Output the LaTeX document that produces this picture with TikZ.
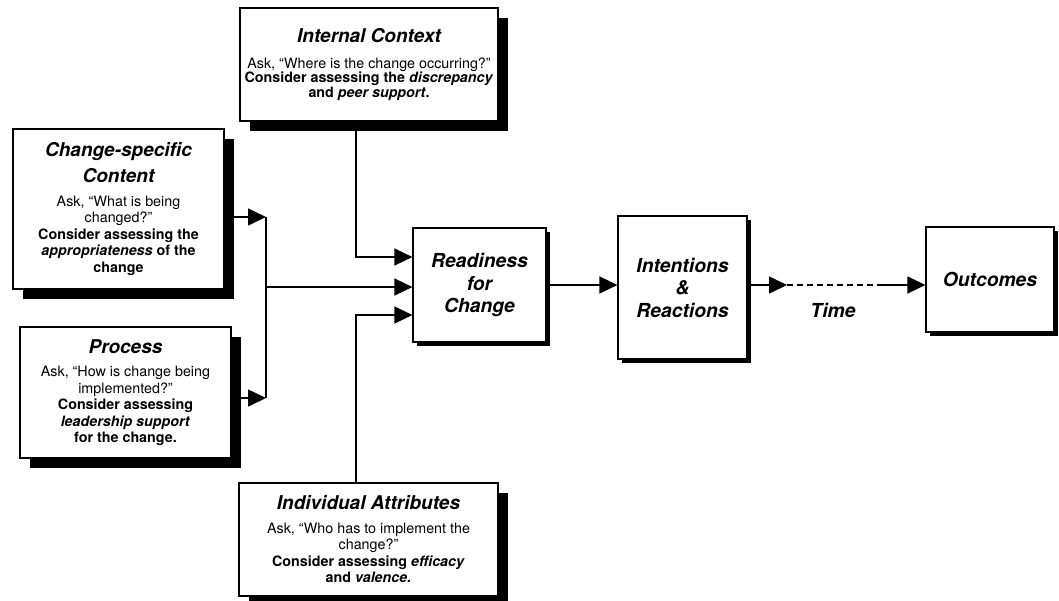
\documentclass[tikz,border=0pt]{standalone}
\usepackage{fontspec}
\setmainfont{TeX Gyre Heros}
\usetikzlibrary{arrows.meta,shadows}
\newcommand{\ttl}{\fontsize{19}{23}\selectfont\bfseries\itshape}
\newcommand{\bdy}{\fontsize{14.3}{16.5}\selectfont}
\newcommand{\bdyt}{\fontsize{14.3}{14.5}\selectfont\lineskiplimit=-10pt}
\newcommand{\midfont}{\fontsize{19.3}{22.5}\selectfont\bfseries\itshape}
\begin{document}
\begin{tikzpicture}[x=1pt,y=-1pt,
  box/.style={draw, line width=1.2pt, fill=white, inner sep=0pt, align=center, font=\bdy},
  bigsh/.style={drop shadow={shadow xshift=10pt, shadow yshift=-10pt, fill=black, opacity=1}},
  smsh/.style={drop shadow={shadow xshift=4pt, shadow yshift=-4pt, fill=black, opacity=1}},
  arr/.style={line width=1.6pt, -{Triangle[length=18pt,width=17pt]}},
  ln/.style={line width=1.6pt},
  dsh/.style={line width=1.6pt, dash pattern=on 6pt off 4pt},
]
\useasboundingbox (0,0) rectangle (1059,600);

\node[box,bigsh,minimum width=258pt,minimum height=113pt,font=\bdyt] (IC) at (369,64.5)
  {{\ttl Internal Context}\\[11pt]
   Ask, ``Where is the change occurring?"\\
   \textbf{Consider assessing the \textit{discrepancy}}\\
   \textbf{and \textit{peer support}.}};

\node[box,bigsh,minimum width=211pt,minimum height=160pt] (CS) at (118.5,209)
  {{\ttl Change-specific}\\[6.5pt]
   {\ttl Content}\\[7pt]
   Ask, ``What is being\\
   changed?"\\
   \textbf{Consider assessing the}\\
   \textbf{\textit{appropriateness} of the}\\
   \textbf{change}};

\node[box,bigsh,minimum width=211pt,minimum height=131pt] (PR) at (125.5,392.5)
  {{\ttl Process}\\[7pt]
   Ask, ``How is change being\\
   implemented?"\\
   \textbf{Consider assessing}\\
   \textbf{\textit{leadership support}}\\
   \textbf{for the change.}};

\node[box,bigsh,minimum width=259pt,minimum height=113pt] (IA) at (368.5,539.5)
  {{\ttl Individual Attributes}\\[7pt]
   Ask, ``Who has to implement the\\
   change?"\\
   \textbf{Consider assessing \textit{efficacy}}\\
   \textbf{and \textit{valence.}}};

\node[box,smsh,minimum width=133pt,minimum height=114pt,font=\midfont] (RC) at (479.5,285)
  {Readiness\\for\\Change};
\node[box,smsh,minimum width=129pt,minimum height=143pt,font=\midfont] (IR) at (682.5,287.5)
  {Intentions\\\&\\Reactions};
\node[box,smsh,minimum width=128pt,minimum height=105pt,font=\midfont] (OU) at (990,279.5)
  {Outcomes};

\node[font=\fontsize{19.3}{22}\selectfont\bfseries\itshape] (TM) at (833,310) {Time};

% left junction
\coordinate (j1) at (266,217);
\coordinate (j2) at (266,398);
\coordinate (jm) at (266,287);
\coordinate (c1) at (356,257);
\coordinate (c2) at (356,315);
\coordinate (t1) at (787,285);
\coordinate (t2) at (878,285);

\draw[arr] (j1 -| CS.east) -- (j1);
\draw[arr] (j2 -| PR.east) -- (j2);
\draw[ln] (j1) -- (j2);
\draw[arr] (jm) -- (jm -| RC.west);
\draw[arr] (c1 |- IC.south) -- (c1) -- (c1 -| RC.west);
\draw[arr] (c2 |- IA.north) -- (c2) -- (c2 -| RC.west);
\draw[arr] (RC.east) -- (RC.east -| IR.west);
\draw[arr] (t1 -| IR.east) -- (t1);
\draw[dsh] (t1) -- (t2);
\draw[arr] (t2) -- (t2 -| OU.west);
\end{tikzpicture}
\end{document}
